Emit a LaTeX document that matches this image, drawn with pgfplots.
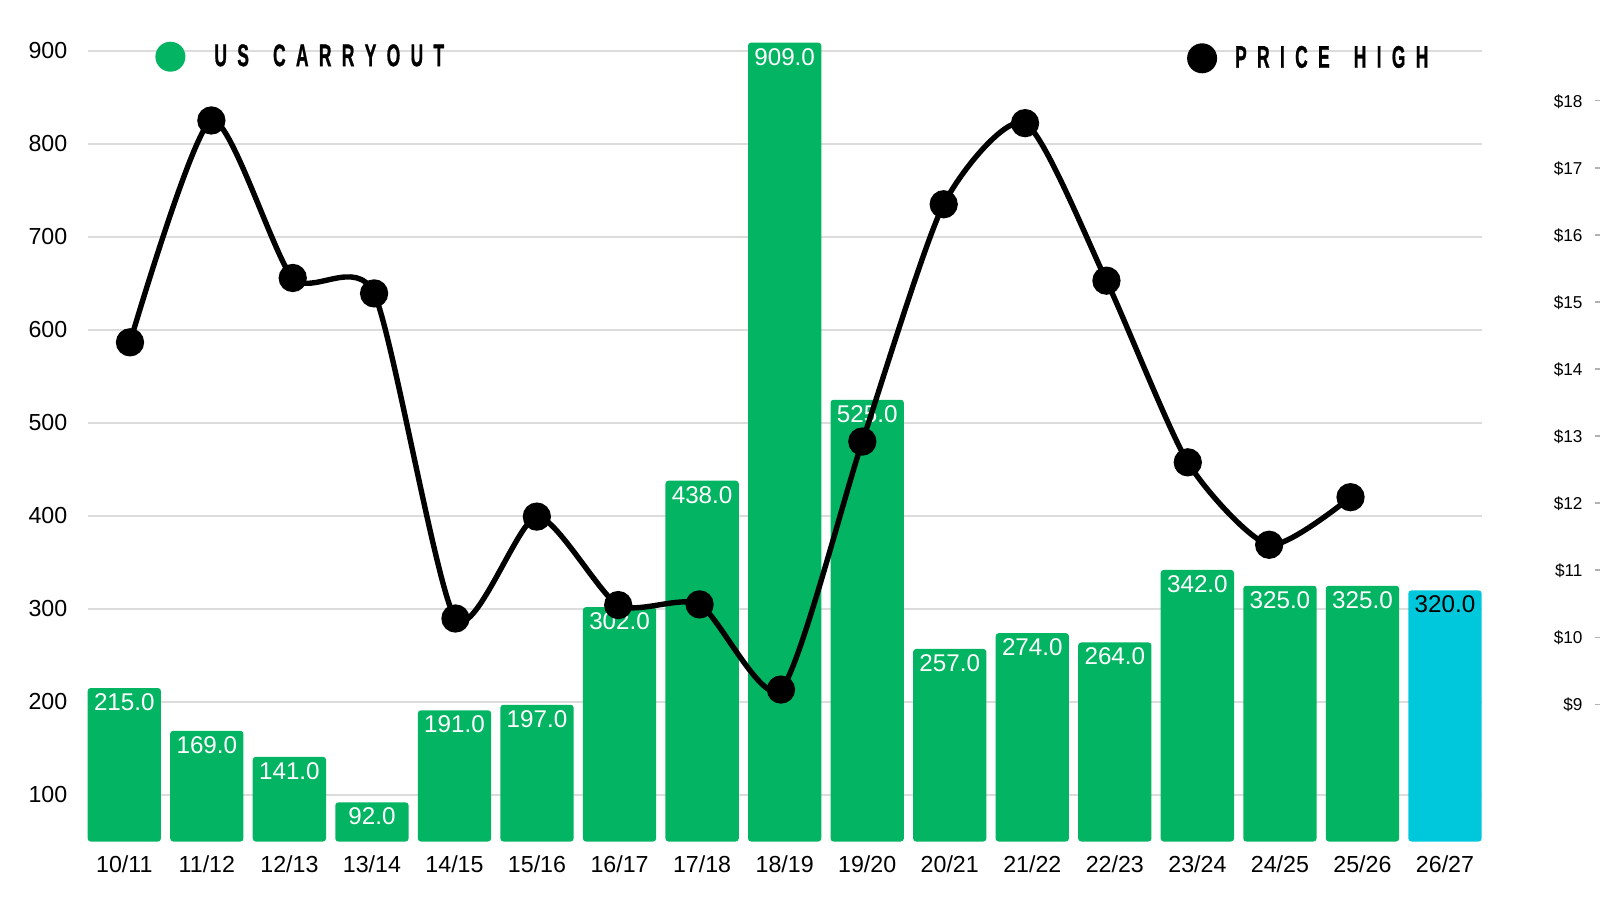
\documentclass[border=0pt]{standalone}
\usepackage{fontspec}
\setmainfont{Liberation Sans}
\newfontfamily\legfont{Liberation Sans Bold}[FakeBold=1.2]
\usepackage{graphicx}
\usepackage{pgfplots}
\pgfplotsset{compat=1.18}
\definecolor{cgreen}{HTML}{03B562}
\definecolor{ccyan}{HTML}{00C8DC}
\definecolor{gridgray}{HTML}{DCDCDC}
\newcommand{\lgap}{\hspace{9.2pt}}
\newcommand{\wgap}{\hspace{21.5pt}}
\begin{document}
\begin{tikzpicture}
\useasboundingbox (0,0) rectangle (800pt,450pt);
\begin{axis}[
  at={(43.85pt,29.25pt)}, anchor=south west,
  scale only axis, width=697pt, height=404.55pt,
  xmin=-0.4434, xmax=16.4446, ymin=50, ymax=920,
  axis line style={draw=none}, major tick length=0pt,
  /pgf/number format/assume math mode=true,
  ytick={100,200,...,900},
  ymajorgrids, grid style={color=gridgray, line width=0.75pt},
  xtick={0,...,16},
  xticklabels={10/11,11/12,12/13,13/14,14/15,15/16,16/17,17/18,18/19,19/20,20/21,21/22,22/23,23/24,24/25,25/26,26/27},
  tick label style={font=\fontsize{11.6}{12}\selectfont},
  yticklabel style={inner sep=0pt, xshift=-10pt},
  xticklabel style={inner sep=0pt, anchor=north, yshift=-7pt},
  ybar,
  legend style={draw=none, fill=none, at={(0.04828,0.96996)}, anchor=west,
    inner sep=0pt, nodes={inner sep=0pt}, column sep=14.5pt},
  legend image code/.code={\fill[#1] (7.5pt,0pt) circle[radius=7.5pt];},
]
\addplot[ybar, bar width=0.888, bar shift=0pt, fill=cgreen, draw=none,
  rounded corners=1.5pt, forget plot,
  nodes near coords={\pgfmathprintnumber[fixed,fixed zerofill,precision=1]{\pgfplotspointmeta}},
  every node near coord/.append style={anchor=north, inner sep=0pt, yshift=-2.6pt,
    text=white, font=\fontsize{12.1}{13}\selectfont, rounded corners=0pt}]
  coordinates {(0,215) (1,169) (2,141) (3,92) (4,191) (5,197) (6,302) (7,438)
    (8,909) (9,525) (10,257) (11,274) (12,264) (13,342) (14,325) (15,325)};
\addplot[ybar, bar width=0.888, bar shift=0pt, fill=ccyan, draw=none,
  rounded corners=1.5pt, forget plot,
  nodes near coords={\pgfmathprintnumber[fixed,fixed zerofill,precision=1]{\pgfplotspointmeta}},
  every node near coord/.append style={anchor=north, inner sep=0pt, yshift=-2.6pt,
    text=black, font=\fontsize{12.1}{13}\selectfont, rounded corners=0pt}]
  coordinates {(16,320)};
\addlegendimage{fill=cgreen, draw=none}
\addlegendentry{\legfont\fontsize{15.6}{16}\selectfont\scalebox{0.56}[1]{U\lgap S\wgap C\lgap A\lgap R\lgap R\lgap Y\lgap O\lgap U\lgap T}}
\end{axis}
\begin{axis}[
  at={(43.85pt,29.25pt)}, anchor=south west,
  scale only axis, width=697pt, height=404.55pt,
  xmin=-0.5198, xmax=16.612, ymin=6.963, ymax=19.034,
  axis line style={draw=none}, major tick length=0pt,
  /pgf/number format/assume math mode=true,
  xtick=\empty,
  ytick={9,10,...,18},
  yticklabel pos=right,
  yticklabel={\$\pgfmathprintnumber{\tick}\hspace{6pt}{\color{black!30}\rule[3pt]{3pt}{0.6pt}}},
  yticklabel style={anchor=east, inner sep=0pt, xshift=59.6pt, font=\fontsize{8.6}{9}\selectfont},
  legend style={draw=none, fill=none, at={(0.78838,0.96799)}, anchor=west,
    inner sep=0pt, nodes={inner sep=0pt}, column sep=9pt},
  legend image code/.code={\fill[#1] (7.5pt,0pt) circle[radius=7.5pt];},
]
\addplot[black, line width=2.7pt, smooth, tension=0.4, mark=*, mark size=5.7pt, forget plot]
  coordinates {(0,14.41) (1,17.72) (2,15.37) (3,15.14) (4,10.29) (5,11.81) (6,10.49)
    (7,10.50) (8,9.23) (9,12.93) (10,16.47) (11,17.68) (12,15.33) (13,12.62)
    (14,11.39) (15,12.10)};
\addlegendimage{fill=black, draw=none}
\addlegendentry{\legfont\fontsize{15.6}{16}\selectfont\scalebox{0.56}[1]{P\lgap R\lgap I\lgap C\lgap E\wgap H\lgap I\lgap G\lgap H}}
\end{axis}
\end{tikzpicture}
\end{document}
